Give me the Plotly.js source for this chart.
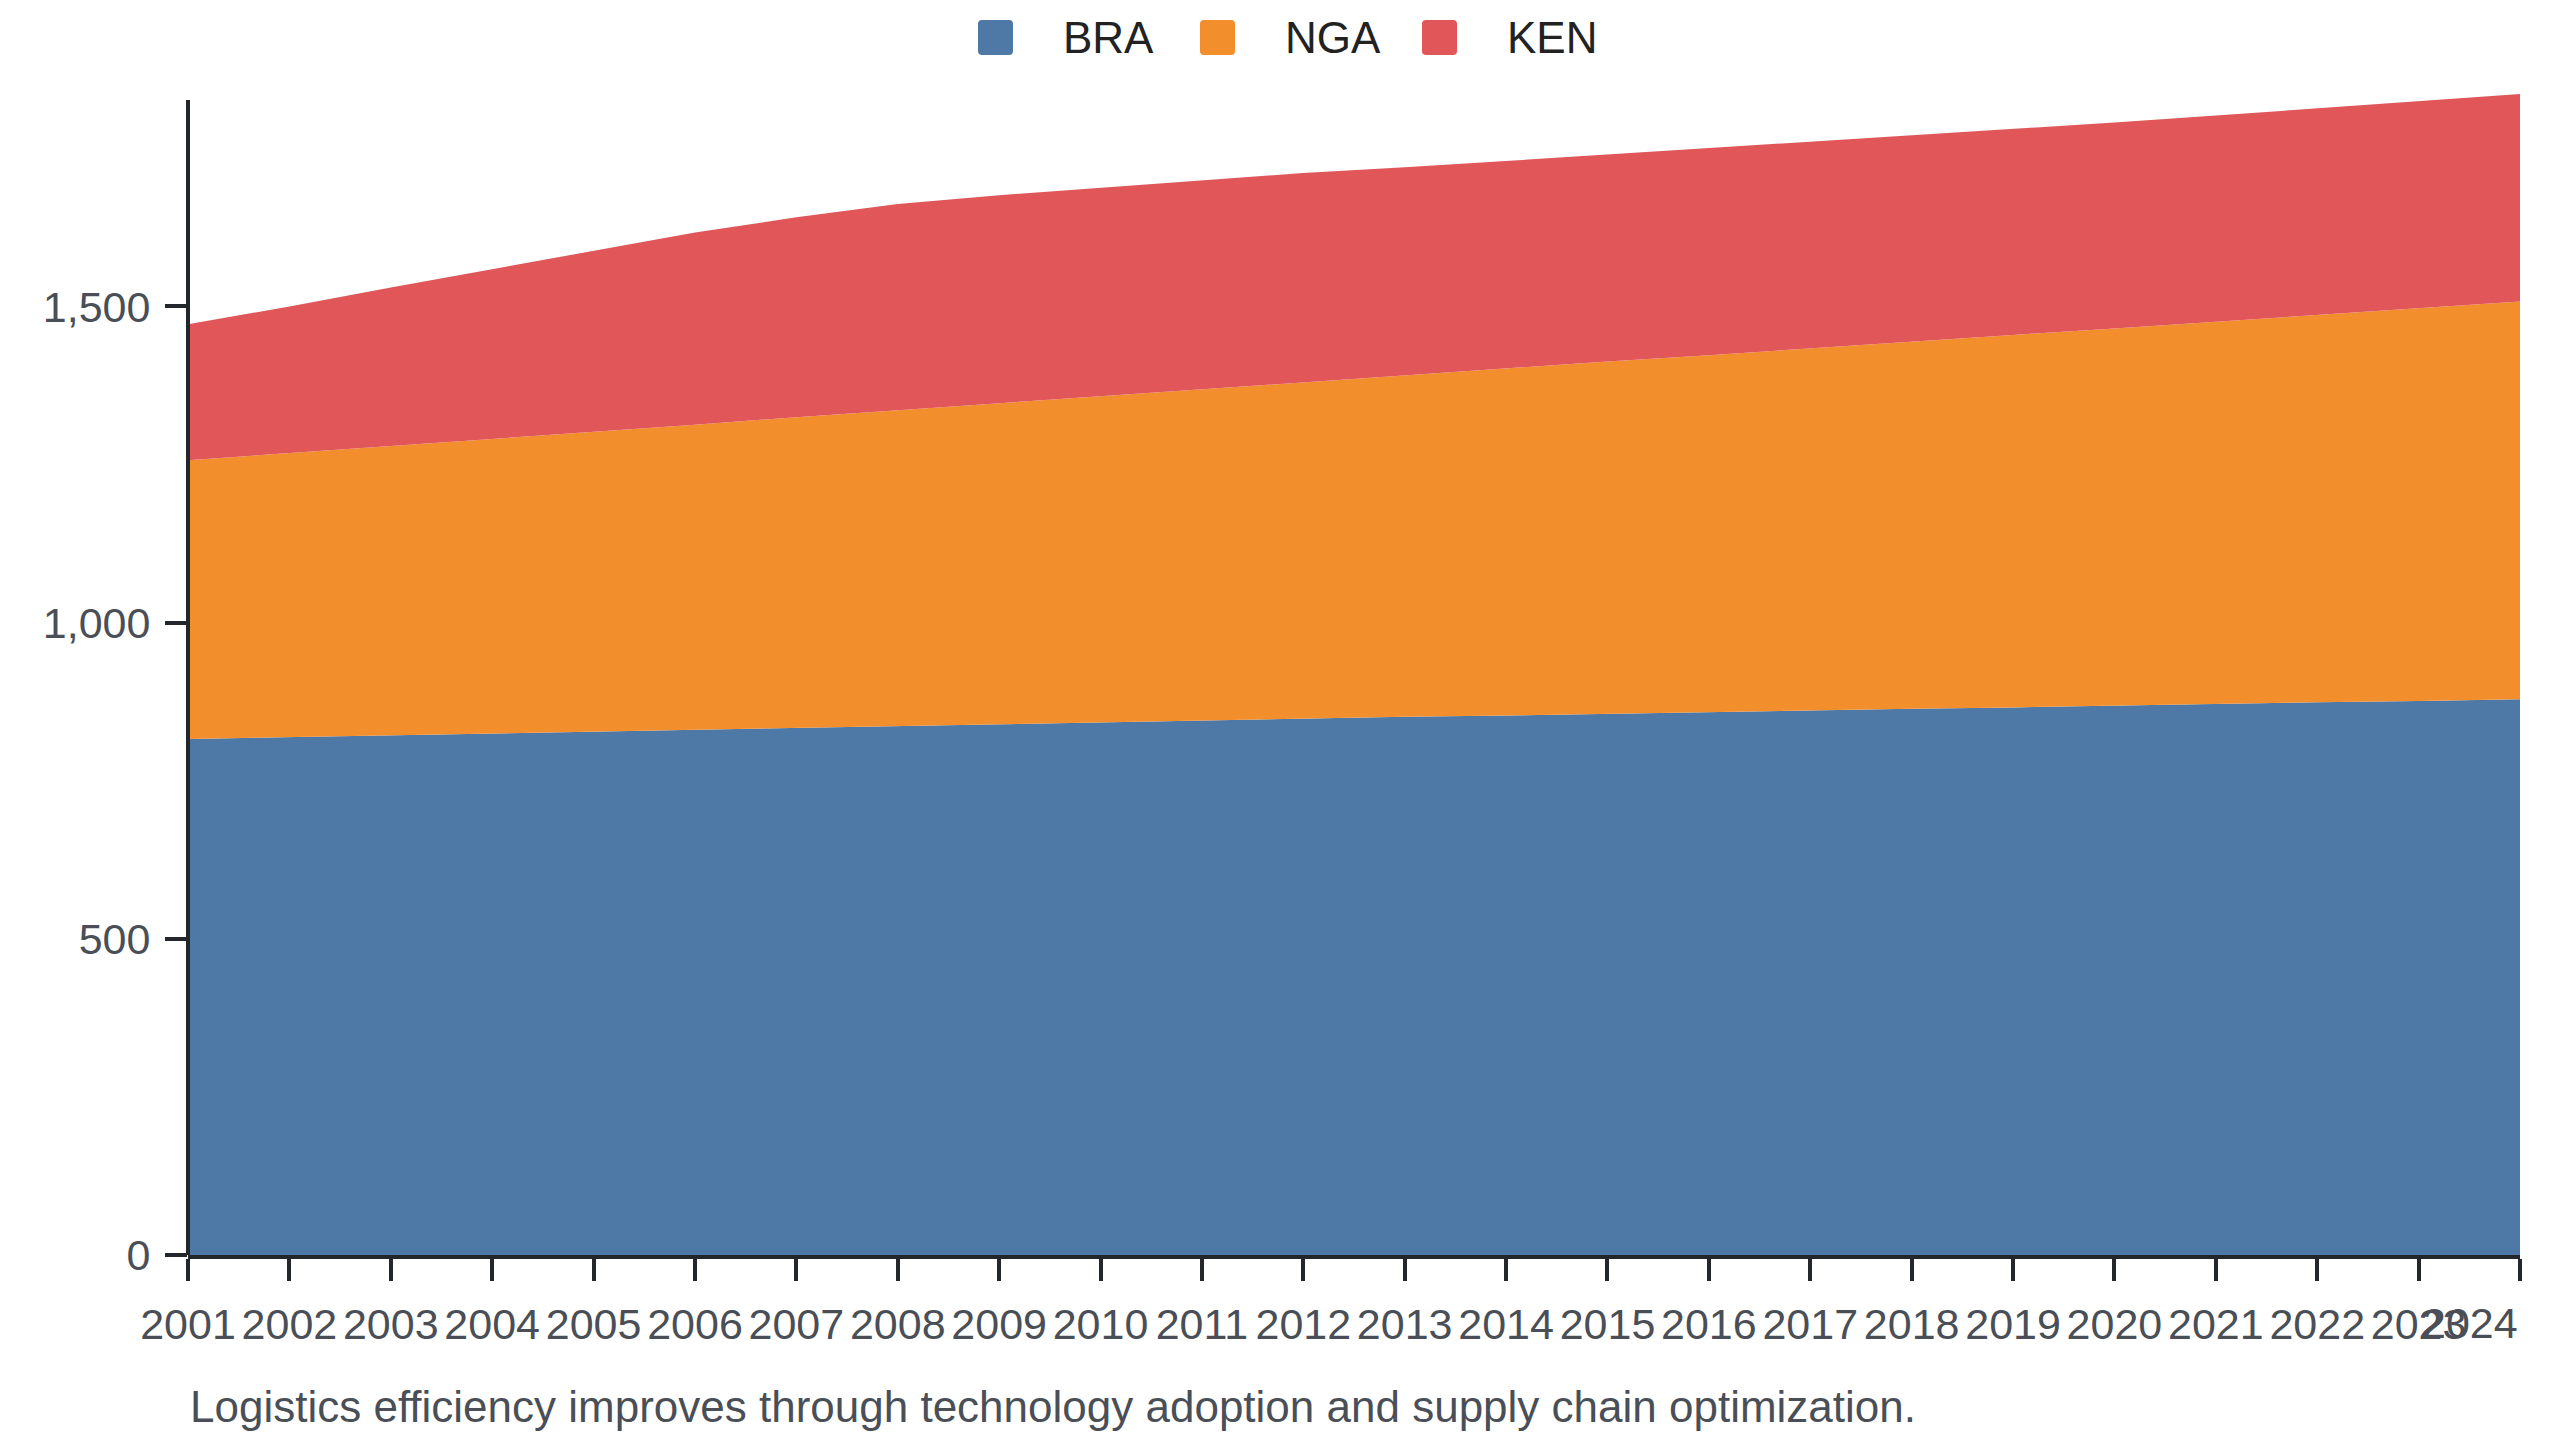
<!DOCTYPE html>
<html>
<head>
<meta charset="utf-8">
<script src="https://cdn.plot.ly/plotly-3.0.1.min.js"></script>
<style>
    html, body { margin: 0; padding: 0; background: #ffffff; }
    #chart { width: 2560px; height: 1440px; }
</style>
</head>
<body>
<div id="chart"></div>
<script>

//  ###################### DATA ######################

const years = [2001, 2002, 2003, 2004, 2005, 2006, 2007, 2008, 2009, 2010, 2011, 2012,
               2013, 2014, 2015, 2016, 2017, 2018, 2019, 2020, 2021, 2022, 2023, 2024];

const braValues = [816, 819, 822, 825, 828, 831, 834, 837, 840, 843, 845, 848,
                   851, 853, 856, 858, 861, 864, 866, 869, 871, 874, 876, 879];

const ngaValues = [441, 449, 458, 466, 474, 482, 491, 499, 507, 516, 525, 533,
                   541, 549, 557, 565, 573, 580, 589, 596, 605, 613, 621, 629];

const kenValues = [215, 232, 250, 268, 286, 304, 316, 326, 329, 329, 330, 330,
                   328, 328, 327, 327, 326, 326, 325, 326, 326, 326, 328, 328];

const seriesNames = ["BRA", "NGA", "KEN"];
const yTickValues = [0, 500, 1000, 1500];
const caption = "Logistics efficiency improves through technology adoption and supply chain optimization.";

//  ###################### STYLE ######################

const seriesColors = ["#4e79a7", "#f28e2b", "#e15759"];
const fontFamily = "'Liberation Sans', Arial, Helvetica, sans-serif";
const axisColor = "#23262b";
const tickTextColor = "#4a4f57";

// plot area in pixels, used to place legend items and caption
const W = 2560, H = 1440;
const margin = { l: 188, r: 40, t: 94, b: 185 };
const plotW = W - margin.l - margin.r;
const plotH = H - margin.t - margin.b;

function pxX(px){ return (px - margin.l) / plotW; }
function pxY(py){ return (H - margin.b - py) / plotH; }

// rounded square path in paper coords, from pixel box
function roundedSquare(x0, y0, size, r){
    const X = v => pxX(v), Y = v => pxY(v);
    const x1 = x0 + size, y1 = y0 + size;
    return `M${X(x0 + r)},${Y(y0)} L${X(x1 - r)},${Y(y0)} Q${X(x1)},${Y(y0)} ${X(x1)},${Y(y0 + r)}` +
           ` L${X(x1)},${Y(y1 - r)} Q${X(x1)},${Y(y1)} ${X(x1 - r)},${Y(y1)}` +
           ` L${X(x0 + r)},${Y(y1)} Q${X(x0)},${Y(y1)} ${X(x0)},${Y(y1 - r)}` +
           ` L${X(x0)},${Y(y0 + r)} Q${X(x0)},${Y(y0)} ${X(x0 + r)},${Y(y0)} Z`;
}

//  ###################### CHART ######################

function drawStackedArea(){

    const seriesValues = [braValues, ngaValues, kenValues];

    const data = seriesNames.map((name, i) => ({
        x: years,
        y: seriesValues[i],
        name: name,
        type: "scatter",
        mode: "lines",
        stackgroup: "one",
        line: { width: 0, color: seriesColors[i] },
        fillcolor: seriesColors[i],
        showlegend: false,
        hoverinfo: "skip",
    }));

    const shapes = [];
    const annotations = [];

    // y axis line stops a bit below the top of the data
    shapes.push({
        type: "line", xref: "paper", yref: "paper",
        x0: 0, x1: 0, y0: 0, y1: pxY(100),
        line: { color: axisColor, width: 4 },
        layer: "above",
    });

    // legend: rounded squares + labels, fixed item width
    const legendLeft = 978, legendStep = 222, sw = 35, swTop = 20;
    seriesNames.forEach((name, i) => {
        const x0 = legendLeft + i * legendStep;
        shapes.push({
            type: "path", xref: "paper", yref: "paper",
            path: roundedSquare(x0, swTop, sw, 4),
            fillcolor: seriesColors[i],
            line: { width: 0 },
        });
        annotations.push({
            xref: "paper", yref: "paper",
            x: pxX(x0 + 83), y: pxY(swTop + sw / 2),
            xanchor: "left", yanchor: "middle",
            text: name, showarrow: false,
            font: { family: fontFamily, size: 44, color: "#222222" },
        });
    });

    // last year label sits right-aligned at the axis end
    annotations.push({
        xref: "x", yref: "paper",
        x: years[years.length - 1], y: 0,
        xanchor: "right", yanchor: "middle", yshift: -68,
        text: String(years[years.length - 1]), showarrow: false,
        font: { family: fontFamily, size: 43, color: tickTextColor },
    });

    annotations.push({
        xref: "paper", yref: "paper",
        x: 0, y: 0, xanchor: "left", yanchor: "middle", yshift: -151,
        text: caption, showarrow: false,
        font: { family: fontFamily, size: 44, color: tickTextColor },
    });

    const total = years.map((_, i) => braValues[i] + ngaValues[i] + kenValues[i]);

    const layout = {
        width: W,
        height: H,
        paper_bgcolor: "#ffffff",
        plot_bgcolor: "#ffffff",
        font: { family: fontFamily, size: 43, color: tickTextColor },
        margin: margin,
        showlegend: false,
        xaxis: {
            type: "linear",
            range: [years[0], years[years.length - 1]],
            tickvals: years,
            ticktext: years.map((y, i) => i === years.length - 1 ? "" : String(y)),
            ticks: "outside", ticklen: 22, tickwidth: 4, tickcolor: axisColor,
            showline: true, linewidth: 4, linecolor: axisColor,
            showgrid: false, zeroline: false,
            tickfont: { family: fontFamily, size: 43, color: tickTextColor },
            ticklabelstandoff: 6,
        },
        yaxis: {
            range: [0, Math.max(...total)],
            tickvals: yTickValues,
            tickformat: ",",
            ticks: "outside", ticklen: 22, tickwidth: 4, tickcolor: axisColor,
            showline: false, showgrid: false, zeroline: false,
            tickfont: { family: fontFamily, size: 43, color: tickTextColor },
            ticklabelstandoff: 6,
        },
        shapes: shapes,
        annotations: annotations,
    };

    const config = { staticPlot: true };

    Plotly.newPlot("chart", data, layout, config);
}

drawStackedArea();

</script>
</body>
</html>
